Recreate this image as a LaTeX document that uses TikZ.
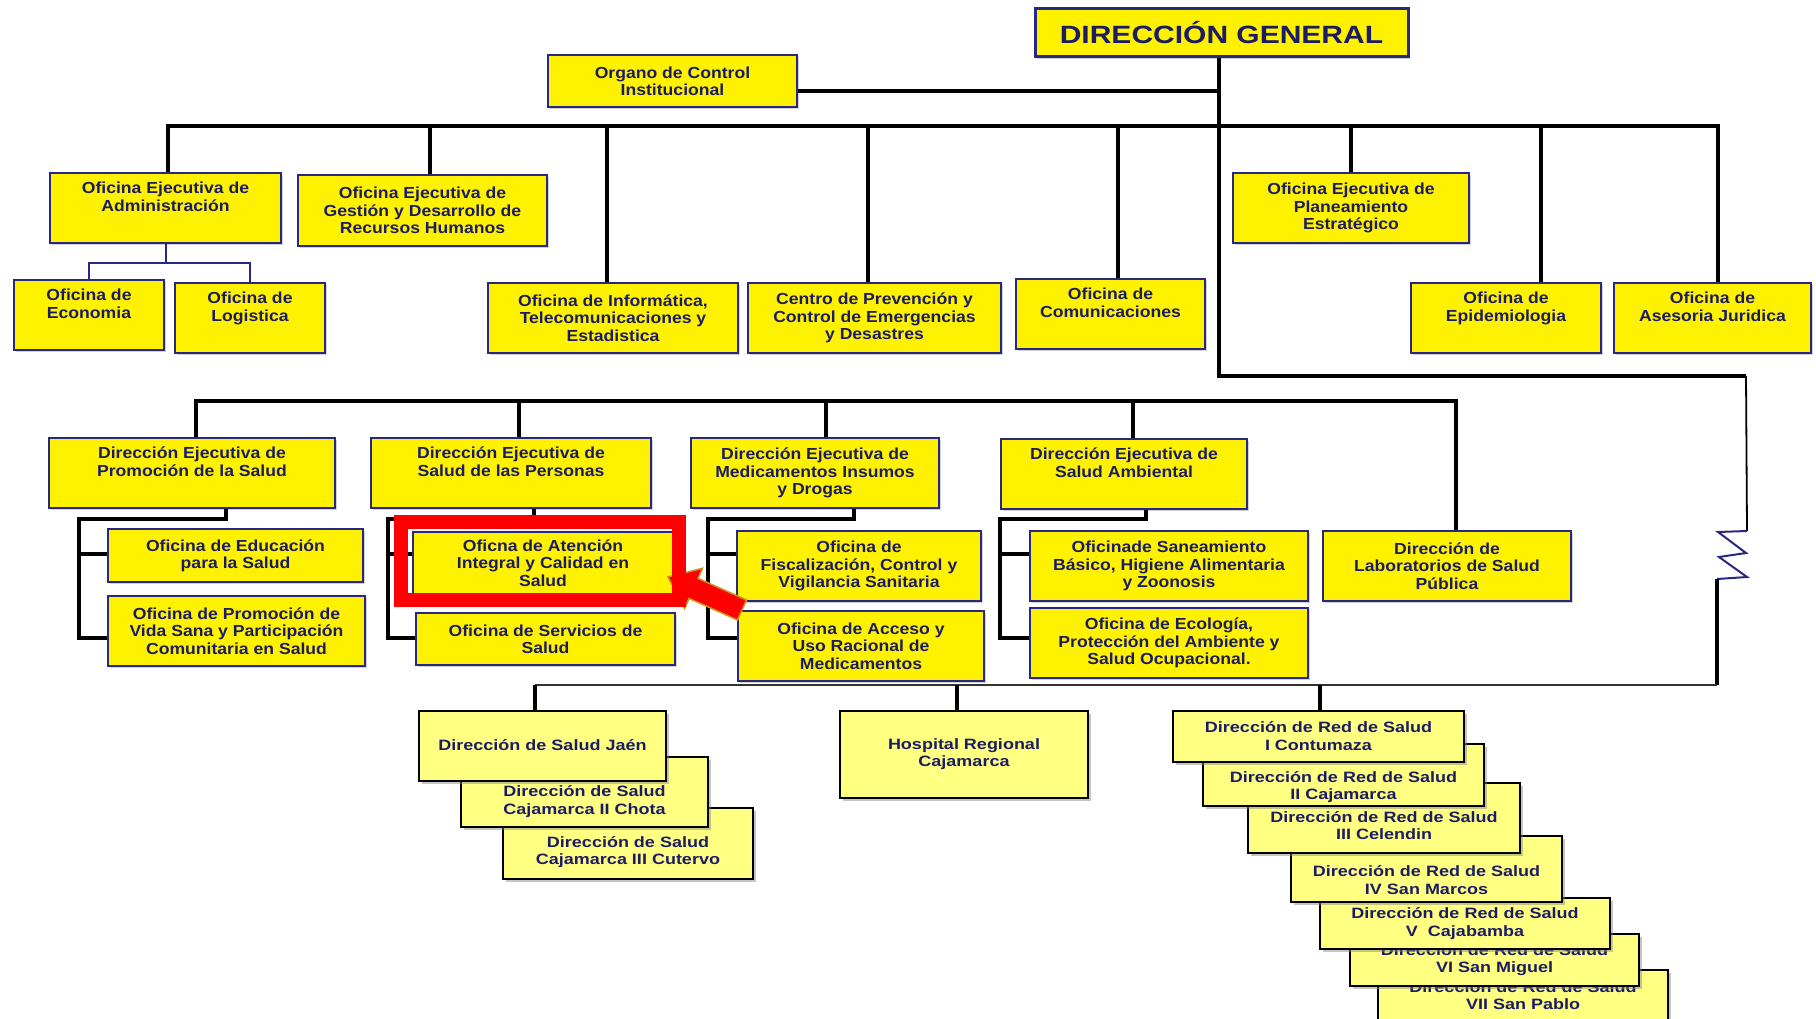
\documentclass[tikz,border=0pt]{standalone}
\usepackage{fontspec}
\setmainfont{Liberation Sans}
\newfontfamily\topfont[FakeStretch=1.1]{Liberation Sans}
\newfontfamily\lowfont[FakeStretch=1.2]{Liberation Sans}
\usetikzlibrary{shadows}

\definecolor{navy}{RGB}{28,28,100}
\definecolor{frame}{RGB}{40,40,130}
\definecolor{paleyellow}{RGB}{255,255,130}
\definecolor{gold}{RGB}{200,150,30}

\tikzset{
  unit/.style={draw=frame, fill=yellow, line width=2.2pt, text=navy, align=center, inner sep=3pt,
    font=\fontsize{16}{17.4}\topfont\bfseries,
    drop shadow={shadow xshift=2pt, shadow yshift=-2pt, opacity=.35}},
  low/.style={draw=black, fill=paleyellow, line width=2.4pt,
    drop shadow={shadow xshift=2.5pt, shadow yshift=-2.5pt, opacity=.45}},
  lowtext/.style={text=navy, align=center, font=\fontsize{15}{17.7}\lowfont\bfseries},
  wh/.style 2 args={minimum width=#1, minimum height=#2},
  link/.style={line width=3.2pt},
  sublink/.style={frame, line width=2pt},
}

\begin{document}
\begin{tikzpicture}[x=1pt, y=-1pt]
\clip (0,0) rectangle (1816,1019);
\fill[white] (0,0) rectangle (1816,1019);

% top level boxes
\node[unit, wh={373}{48}, line width=3pt, font=\fontsize{25}{28}\lowfont\bfseries] (dg) at (1221.5,33) {DIRECCIÓN GENERAL};
\node[unit, wh={249}{52}] (oci) at (672.5,81) {Organo de Control\\Institucional};

\node[unit, wh={231}{70}] (adm) at (165.5,208) {Oficina Ejecutiva de\\Administración\\\strut};
\node[unit, wh={249}{71}] (rrhh) at (422.5,210.5) {Oficina Ejecutiva de\\Gestión y Desarrollo de\\Recursos Humanos};
\node[unit, wh={236}{70}] (plan) at (1351,208) {Oficina Ejecutiva de\\Planeamiento\\Estratégico};

\node[unit, wh={150}{70}] (eco) at (89,315) {Oficina de\\Economia\\\strut};
\node[unit, wh={150}{70}] (log) at (250,318) {Oficina de\\Logistica\\\strut};
\node[unit, wh={250}{70}] (inf) at (613,318) {Oficina de Informática,\\Telecomunicaciones y\\Estadistica};
\node[unit, wh={253}{70}] (cpe) at (874.5,318) {Centro de Prevención y\\Control de Emergencias\\y Desastres};
\node[unit, wh={189}{70}] (com) at (1110.5,314) {Oficina de\\Comunicaciones\\\strut};
\node[unit, wh={190}{70}] (epi) at (1506,318) {Oficina de\\Epidemiologia\\\strut};
\node[unit, wh={197}{70}] (ase) at (1712.5,318) {Oficina de\\Asesoria Juridica\\\strut};

% directions and their offices
\node[unit, wh={286}{70}] (dps) at (192,473) {Dirección Ejecutiva de\\Promoción de la Salud\\\strut};
\node[unit, wh={280}{70}] (dsp) at (511,473) {Dirección Ejecutiva de\\Salud de las Personas\\\strut};
\node[unit, wh={248}{70}] (dmi) at (815,473) {Dirección Ejecutiva de\\Medicamentos Insumos\\y Drogas};
\node[unit, wh={246}{70}] (dsa) at (1124,474) {Dirección Ejecutiva de\\Salud Ambiental\\\strut};
\node[unit, wh={248}{70}] (dlab) at (1447,566) {Dirección de\\Laboratorios de Salud\\Pública};

\node[unit, wh={255}{53}] (edu) at (235.5,555.5) {Oficina de Educación\\para la Salud};
\node[unit, wh={257}{70}] (vsa) at (236.5,631) {Oficina de Promoción de\\Vida Sana y Participación\\Comunitaria en Salud};
\node[unit, wh={260}{62}] (ate) at (543,563) {Oficna de Atención\\Integral y Calidad en\\Salud};
\node[unit, wh={259}{52}] (ser) at (545.5,639) {Oficina de Servicios de\\Salud};
\node[unit, wh={244}{70}] (fis) at (859,566) {Oficina de\\Fiscalización, Control y\\Vigilancia Sanitaria};
\node[unit, wh={246}{70}] (acc) at (861,646) {Oficina de Acceso y\\Uso Racional de\\Medicamentos};
\node[unit, wh={278}{70}] (san) at (1169,566) {Oficinade Saneamiento\\Básico, Higiene Alimentaria\\y Zoonosis};
\node[unit, wh={278}{70}] (eca) at (1169,643) {Oficina de Ecología,\\Protección del Ambiente y\\Salud Ocupacional.};

% health directions
\node[low, wh={250}{71}] (cut) at (628,843.5) {};
\node[lowtext] (cutt) at (628,852) {Dirección de Salud\\Cajamarca III Cutervo};
\node[low, wh={247}{70}] (cho) at (584.5,792) {};
\node[lowtext] (chot) at (584.5,801.5) {Dirección de Salud\\Cajamarca II Chota};
\node[low, wh={247}{70}] (jae) at (542.5,746) {};
\node[lowtext] (jaet) at (542.5,745) {Dirección de Salud Jaén};

\node[low, wh={248}{87}] (hos) at (964,754.5) {};
\node[lowtext] (host) at (964,754) {Hospital Regional\\Cajamarca};

% health networks, back to front
\foreach \n/\x/\y/\w/\h/\t/\name in {
    r7/1523/1000/290/60/995.5/VII San Pablo,
    r6/1494.5/960/289/52/960/VI San Miguel,
    r5/1465/923.5/290/51/923.5/V~~Cajabamba,
    r4/1426.5/869/271/66/880/IV San Marcos,
    r3/1384/818/272/70/825.5/III Celendin,
    r2/1343.5/775/281/62/787/II Cajamarca,
    r1/1318.5/736.5/291/51/736/I Contumaza}{
    \node[low, wh={\w}{\h}] (\n) at (\x,\y) {};
    \node[lowtext] (\n t) at (\x,\t) {Dirección de Red de Salud\\\name};
}

% connectors, top level
\draw[link] (dg.south -| 1219,0) -- (1219,376) coordinate (knee) -- (1746,376) coordinate (jog);
\draw[link] (oci.east |- 0,91) -- (1219,91);
\draw[link] (adm.north -| 168,0) -- (168,126) -- (1718,126) -- (ase.north -| 1718,0);
\foreach \x/\n in {430/rrhh, 607/inf, 868/cpe, 1118/com, 1351/plan, 1541/epi}{
    \draw[link] (\x,126) -- (\n.north -| \x,0);
}
\draw[sublink] (adm.south) -- (adm.south |- 0,263);
\draw[sublink] (eco.north) -- (eco.north |- 0,263) -- (log.north |- 0,263) -- (log.north);

% connectors, directions
\draw[link] (dps.north -| 196,0) -- (196,401) -- (1456,401) -- (dlab.north -| 1456,0);
\foreach \x/\n in {519/dsp, 826/dmi, 1133/dsa}{
    \draw[link] (\x,401) -- (\n.north -| \x,0);
}
\foreach \s/\x/\l/\a/\b in {dps/226/79/edu/vsa, dsp/534/388/ate/ser, dmi/854/708/fis/acc, dsa/1146/1000/san/eca}{
    \draw[link] (\s.south -| \x,0) -- (\x,519) -- (\l,519) -- (\l,638) -- (\b.west |- 0,638);
    \draw[link] (\l,554) -- (\a.west |- 0,554);
}

% right side down to the networks
\draw[line width=1.8pt] (jog) -- (1747,531) coordinate (zig);
\draw[frame, line width=2pt] (zig) -- (1718,532) -- (1746,553) -- (1719,557) -- (1747,577) -- (1717,579) coordinate (zag);
\draw[link] (zag) -- (1717,685) coordinate (bend);
\draw[black!80, line width=2pt] (bend) -- (535,685);
\foreach \x/\n in {535/jae, 957/hos, 1320/r1}{
    \draw[link] (\x,685) -- (\n.north -| \x,0);
}

% highlight
\filldraw[fill=red, draw=gold, line width=1.5pt] (746.5,600) -- (698.1,578.4) -- (702.5,568.3) -- (668,577)
    -- (684.6,608.5) -- (689.1,598.4) -- (737.5,620) -- cycle;
\draw[red, line width=14pt] (401,522) rectangle (679,600);

\end{tikzpicture}
\end{document}
